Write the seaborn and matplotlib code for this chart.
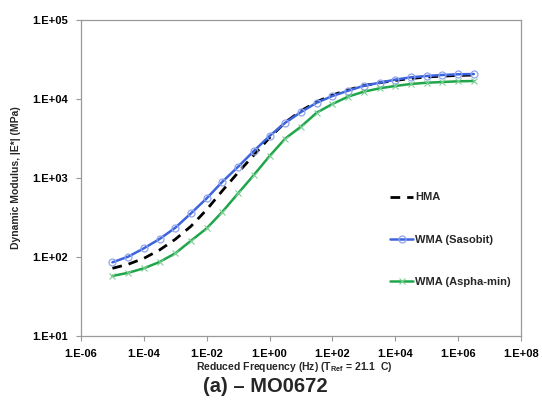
import numpy as np
import pandas as pd
import matplotlib
matplotlib.use("Agg")
import matplotlib.pyplot as plt
import matplotlib.ticker as mticker
import seaborn as sns

# ---- data (log10 of reduced frequency, log10 of |E*| in MPa) ----
log_freq = [-5.0, -4.5, -4.0, -3.5, -3.0, -2.5, -2.0, -1.5, -1.0, -0.5, 0.0, 0.5,
            1.0, 1.5, 2.0, 2.5, 3.0, 3.5, 4.0, 4.5, 5.0, 5.5, 6.0, 6.5]
log_hma = [1.857, 1.908, 1.983, 2.089, 2.224, 2.390, 2.600, 2.840, 3.070, 3.290, 3.510, 3.705,
           3.850, 3.965, 4.050, 4.115, 4.170, 4.205, 4.235, 4.260, 4.278, 4.290, 4.298, 4.303]
log_sasobit = [1.933, 2.004, 2.110, 2.228, 2.370, 2.553, 2.743, 2.953, 3.143, 3.342, 3.532, 3.700,
               3.835, 3.953, 4.038, 4.105, 4.168, 4.206, 4.245, 4.275, 4.291, 4.304, 4.313, 4.316]
log_asphamin = [1.760, 1.800, 1.857, 1.937, 2.047, 2.206, 2.363, 2.573, 2.806, 3.038, 3.278, 3.500,
                3.650, 3.827, 3.937, 4.030, 4.093, 4.135, 4.165, 4.190, 4.206, 4.215, 4.224, 4.228]
series_names = ["HMA", "WMA (Sasobit)", "WMA (Aspha-min)"]
x_ticks = [1e-6, 1e-4, 1e-2, 1e0, 1e2, 1e4, 1e6, 1e8]
y_ticks = [1e1, 1e2, 1e3, 1e4, 1e5]

freq = np.power(10.0, log_freq)
df = pd.DataFrame({
    "freq": np.concatenate([freq, freq, freq]),
    "E": np.power(10.0, np.concatenate([log_hma, log_sasobit, log_asphamin])),
    "Mix": np.repeat(series_names, len(freq)),
})

sns.set_style("white")
plt.rcParams["font.family"] = ["Liberation Sans", "DejaVu Sans"]
plt.rcParams["font.weight"] = "bold"
plt.rcParams["mathtext.fontset"] = "custom"
plt.rcParams["mathtext.rm"] = "Liberation Sans:bold"
plt.rcParams["mathtext.bf"] = "Liberation Sans:bold"

fig = plt.figure(figsize=(5.42, 4.09), dpi=100)
ax = fig.add_axes([81 / 542, 1 - 336 / 409, 440 / 542, 316 / 409])

blue = "#3D64DE"
green = "#1FA64A"

sns.lineplot(data=df[df.Mix == "HMA"], x="freq", y="E", ax=ax, color="black",
             linewidth=2.0, label="HMA", dashes=False, linestyle=(0, (3.5, 2.5)))
sns.lineplot(data=df[df.Mix == "WMA (Sasobit)"], x="freq", y="E", ax=ax, color=blue,
             linewidth=1.8, marker="o", markersize=5, markerfacecolor="none",
             markeredgecolor="#8FA4EC", markeredgewidth=0.9, label="WMA (Sasobit)")
sns.lineplot(data=df[df.Mix == "WMA (Aspha-min)"], x="freq", y="E", ax=ax, color=green,
             linewidth=1.8, marker="x", markersize=4, markeredgecolor="#7FCF96",
             markeredgewidth=0.8, label="WMA (Aspha-min)")

ax.set_xscale("log")
ax.set_yscale("log")
ax.set_xlim(1e-6, 1e8)
ax.set_ylim(1e1, 1e5)
ax.set_xticks(x_ticks)
ax.set_yticks(y_ticks)
ax.xaxis.set_minor_locator(mticker.NullLocator())
ax.yaxis.set_minor_locator(mticker.NullLocator())
fmt = mticker.FuncFormatter(lambda v, p: f"1.E{int(round(np.log10(v))):+03d}")
ax.xaxis.set_major_formatter(fmt)
ax.yaxis.set_major_formatter(fmt)
ax.tick_params(axis="both", which="major", direction="out", length=3.5, width=0.8,
               color="#999999", labelsize=8, labelcolor="black", bottom=True, left=True, pad=6)
for s in ax.spines.values():
    s.set_color("#999999")
    s.set_linewidth(0.9)
ax.set_xlabel("")
ax.set_ylabel("")

fig.text(16 / 542, 1 - 178 / 409, "Dynamic Modulus, |E*| (MPa)", rotation=90,
         ha="center", va="center", fontsize=7.5, fontweight="bold")
fig.text(294 / 542, 1 - 367 / 409,
         r"Reduced Frequency (Hz) (T$_{\mathregular{Ref}}$ = 21.1  C)",
         ha="center", va="center", fontsize=7.5, fontweight="bold")
fig.text(265 / 542, 1 - 386 / 409, "(a) – MO0672", ha="center", va="center",
         fontsize=14.5, fontweight="bold")

leg = ax.legend(loc="upper left", bbox_to_anchor=(305 / 440, 1 - 168 / 316),
                frameon=False, handlelength=2.0, handletextpad=0.2, labelspacing=2.9,
                borderaxespad=0, prop={"weight": "bold", "size": 8})

fig.savefig("out.png", dpi=100)
